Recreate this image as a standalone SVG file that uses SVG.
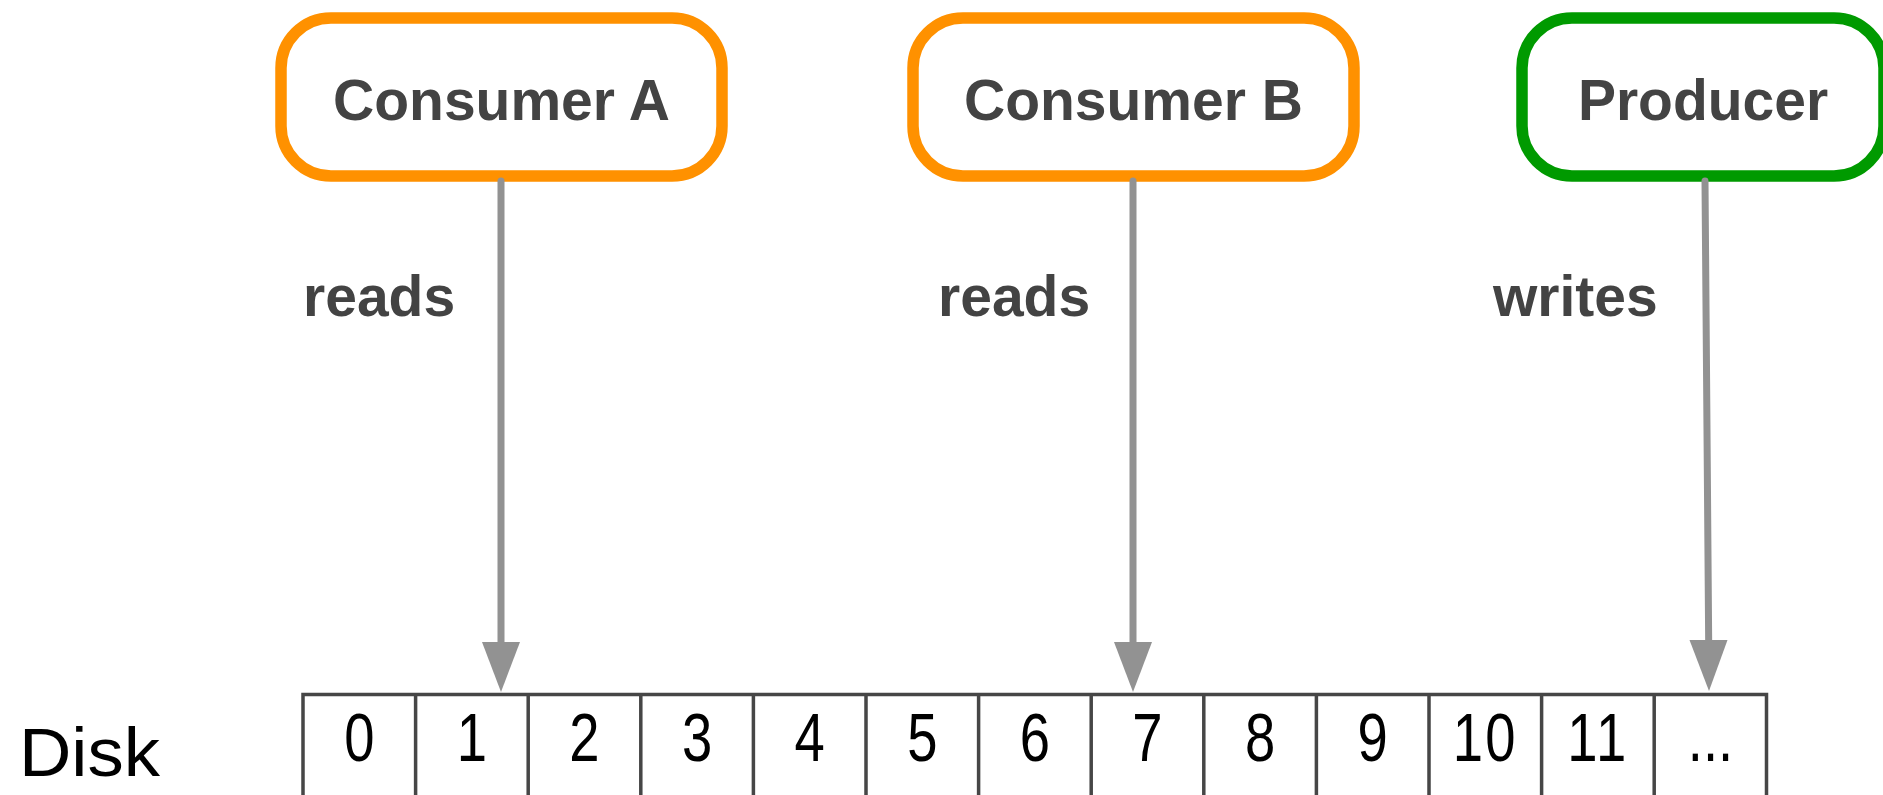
<svg xmlns="http://www.w3.org/2000/svg" width="1883" height="795" viewBox="0 0 1883 795">
  <style>
    .box { fill: #ffffff; stroke-width: 11.5; }
    .consumer { stroke: #ff9100; }
    .producer { stroke: #009a00; }
    .title { font-family: "Liberation Sans", Arial, sans-serif; font-weight: bold; font-size: 57px; fill: #434343; }
    .label { font-family: "Liberation Sans", Arial, sans-serif; font-weight: bold; font-size: 57px; fill: #434343; }
    .wire { stroke: #929292; stroke-width: 7; stroke-linecap: round; fill: none; }
    .head { fill: #929292; }
    .cell { stroke: #464646; stroke-width: 3.5; fill: none; }
    .num { font-family: "Liberation Sans", Arial, sans-serif; font-size: 68px; fill: #000000; text-anchor: middle; }
    .disk { font-family: "Liberation Sans", Arial, sans-serif; font-size: 68px; fill: #000000; }
  </style>

  <!-- clients -->
  <g id="consumer-a">
    <rect class="box consumer" x="281" y="18" width="441" height="158" rx="50" ry="50"/>
    <text class="title" x="501.5" y="120" text-anchor="middle">Consumer A</text>
  </g>
  <g id="consumer-b">
    <rect class="box consumer" x="913" y="18" width="441" height="158" rx="50" ry="50"/>
    <text class="title" x="1133.5" y="120" text-anchor="middle">Consumer B</text>
  </g>
  <g id="producer">
    <rect class="box producer" x="1522" y="18" width="362" height="158" rx="50" ry="50"/>
    <text class="title" x="1703" y="120" text-anchor="middle">Producer</text>
  </g>

  <!-- read / write pointers into the log -->
  <g id="connectors">
    <line class="wire" x1="501" y1="181" x2="501" y2="646"/>
    <polygon class="head" points="482,642 520,642 501,692"/>
    <text class="label" x="303" y="316">reads</text>

    <line class="wire" x1="1133" y1="181" x2="1133" y2="646"/>
    <polygon class="head" points="1114,642 1152,642 1133,692"/>
    <text class="label" x="938" y="316">reads</text>

    <line class="wire" x1="1705" y1="181" x2="1708.7" y2="644"/>
    <polygon class="head" points="1689.5,640 1727.5,640 1709,691"/>
    <text class="label" x="1493" y="316">writes</text>
  </g>

  <!-- on-disk log segments -->
  <g id="disk">
    <text class="disk" x="19" y="776" textLength="141" lengthAdjust="spacingAndGlyphs">Disk</text>
    <path class="cell" d="M303,800 V694.5 H1766.5 V800
      M415.6,694.5 V800 M528.2,694.5 V800 M640.8,694.5 V800 M753.4,694.5 V800
      M866,694.5 V800 M978.6,694.5 V800 M1091.2,694.5 V800 M1203.8,694.5 V800
      M1316.4,694.5 V800 M1429,694.5 V800 M1541.6,694.5 V800 M1654.2,694.5 V800"/>
    <g transform="translate(359.3,761) scale(0.8,1)"><text class="num" x="0" y="0">0</text></g>
    <g transform="translate(471.9,761) scale(0.8,1)"><text class="num" x="0" y="0">1</text></g>
    <g transform="translate(584.5,761) scale(0.8,1)"><text class="num" x="0" y="0">2</text></g>
    <g transform="translate(697.1,761) scale(0.8,1)"><text class="num" x="0" y="0">3</text></g>
    <g transform="translate(809.7,761) scale(0.8,1)"><text class="num" x="0" y="0">4</text></g>
    <g transform="translate(922.3,761) scale(0.8,1)"><text class="num" x="0" y="0">5</text></g>
    <g transform="translate(1034.9,761) scale(0.8,1)"><text class="num" x="0" y="0">6</text></g>
    <g transform="translate(1147.5,761) scale(0.8,1)"><text class="num" x="0" y="0">7</text></g>
    <g transform="translate(1260.1,761) scale(0.8,1)"><text class="num" x="0" y="0">8</text></g>
    <g transform="translate(1372.7,761) scale(0.8,1)"><text class="num" x="0" y="0">9</text></g>
    <g transform="translate(1485.3,761) scale(0.8,1)"><text class="num" x="0" y="0" letter-spacing="3">10</text></g>
    <g transform="translate(1597.9,761) scale(0.8,1)"><text class="num" x="0" y="0" letter-spacing="3">11</text></g>
    <g transform="translate(1710.5,761) scale(0.8,1)"><text class="num" x="0" y="0">...</text></g>
  </g>
</svg>
